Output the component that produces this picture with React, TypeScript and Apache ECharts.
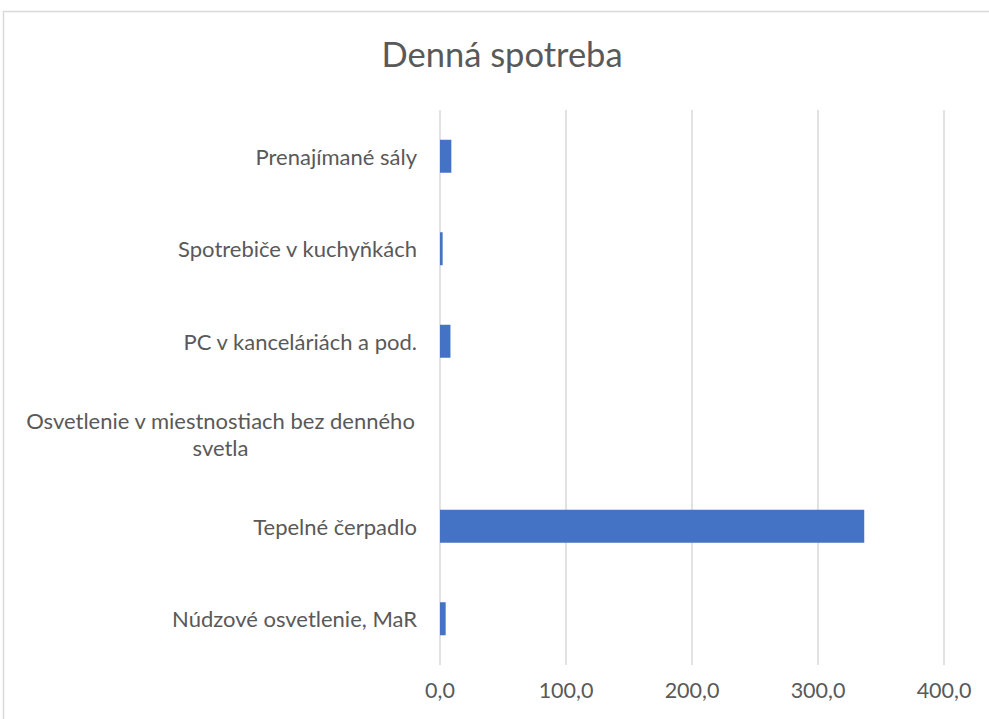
import React, { useEffect, useRef } from "react";
import * as echarts from "echarts";

const titleText = "Denná spotreba";
const categories = [
  "Prenajímané sály",
  "Spotrebiče v kuchyňkách",
  "PC v kanceláriách a pod.",
  "Osvetlenie v miestnostiach bez denného svetla",
  "Tepelné čerpadlo",
  "Núdzové osvetlenie, MaR",
];
const values = [9.0, 2.1, 8.3, 0, 336.7, 4.5];
const xTicks = { min: 0, max: 400, interval: 100 };

const FONT = "Lato, 'Open Sans', sans-serif";

export default function App() {
  const ref = useRef<HTMLDivElement>(null);
  useEffect(() => {
    if (!ref.current) return;
    const chart = echarts.init(ref.current, null, { renderer: "svg" });
    chart.setOption({
      animation: false,
      backgroundColor: "#ffffff",
      title: {
        text: titleText,
        left: 497,
        textAlign: "center",
        top: 31,
        textStyle: { fontFamily: FONT, fontSize: 34.5, fontWeight: "normal", color: "#595959" },
      },
      graphic: [
        {
          type: "rect",
          shape: { x: 3.5, y: 11.5, width: 1000, height: 800 },
          style: { fill: "none", stroke: "#d9d9d9", lineWidth: 1.5 },
          silent: true,
        },
      ],
      grid: { left: 440, right: 45, top: 110, bottom: 54, containLabel: false },
      xAxis: {
        type: "value",
        min: xTicks.min,
        max: xTicks.max,
        interval: xTicks.interval,
        axisLine: { show: false },
        axisTick: { show: false },
        splitLine: { show: true, lineStyle: { color: "#d9d9d9", width: 1.5 } },
        axisLabel: {
          margin: 14,
          color: "#595959",
          fontFamily: FONT,
          fontSize: 21.5,
          formatter: (v: number) => v.toFixed(1).replace(".", ","),
        },
      },
      yAxis: {
        type: "category",
        inverse: true,
        data: categories,
        axisLine: { show: false },
        axisTick: { show: false },
        splitLine: { show: false },
        axisLabel: {
          margin: 23,
          color: "#595959",
          fontFamily: FONT,
          fontSize: 22,
          lineHeight: 27,
          formatter: (v: string) => {
            if (v.length > 40) {
              const i = v.lastIndexOf(" ");
              return "{c|" + v.slice(0, i) + "}\n{c|" + v.slice(i + 1) + "}";
            }
            return v;
          },
          rich: {
            c: {
              width: 393,
              align: "center",
              color: "#595959",
              fontFamily: FONT,
              fontSize: 22,
              lineHeight: 27,
            },
          },
        },
      },
      series: [
        {
          type: "bar",
          data: values,
          barWidth: 33,
          itemStyle: { color: "#4472c4" },
        },
      ],
    });
    return () => chart.dispose();
  }, []);
  return (
    <div
      ref={ref}
      style={{ position: "absolute", left: 0, top: 0, width: 989, height: 719 }}
    />
  );
}
